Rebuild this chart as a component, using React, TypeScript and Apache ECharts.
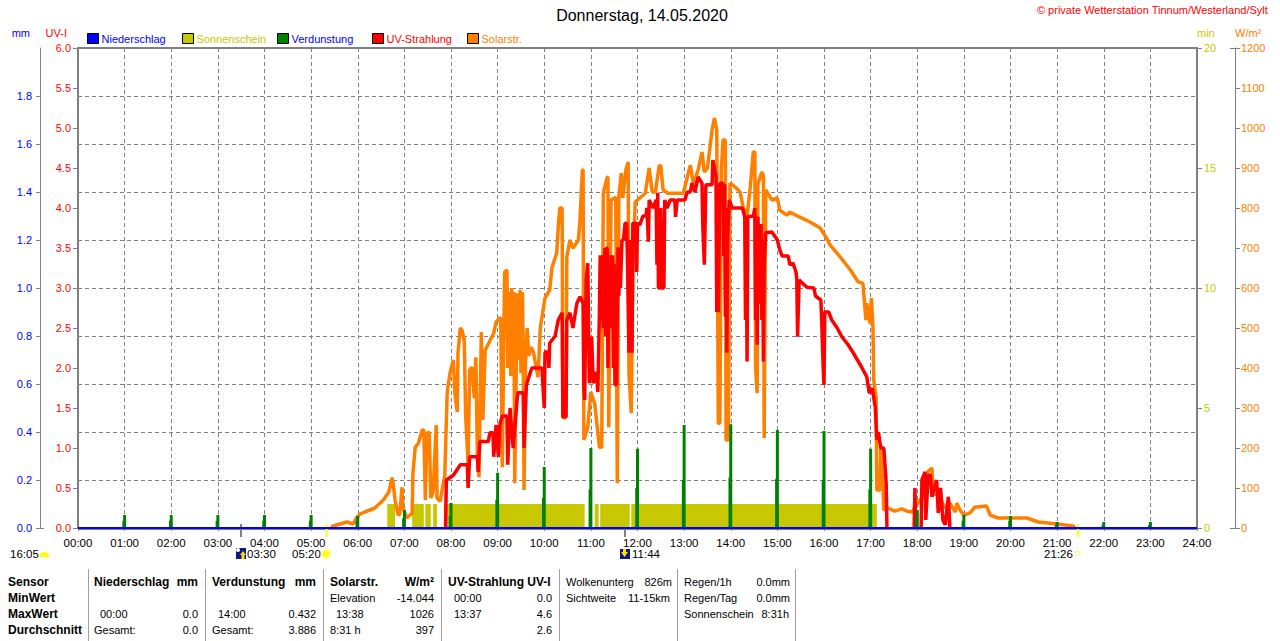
import React, { useEffect, useRef } from "react";
import * as echarts from "echarts";

const titleText = "Donnerstag, 14.05.2020";
const copyrightText = "© private Wetterstation Tinnum/Westerland/Sylt";

// [minute of day, W/m²]
const solarMorning = [
  [326,0],[328,5],[337,10],[346,15],[354,10],[359,27],[363,35],[369,40],[382,50],[393,70],[400,90],[404,125],[405,120],[408,70],[412,32],[414,35],[417,102],[418,52],[423,25],[430,37],[431,137],[434,202],[438,212],[443,245],[445,245],[447,70],[449,237],[452,240],[454,75],[457,90],[461,257],[462,75],[466,67],[472,132],[475,332],[476,352],[479,390],[483,420],[485,337],[488,290],[489,437],[492,500],[494,495],[497,470],[499,275],[502,162],[504,395],[507,402],[510,325],[512,427],[514,177],[516,127],[519,490],[521,270],[524,445],[528,460],[535,487],[538,515],[543,525],[544,525],[546,152],[549,640],[552,645],[553,400],[555,590],[557,380],[558,600],[560,480],[561,590],[562,112],[564,400],[565,587],[567,420],[569,595],[570,387],[572,590],[573,420],[574,95],[576,420],[578,500],[580,430],[583,452],[586,440],[592,377],[595,502],[601,575],[607,595],[610,652],[616,687],[618,752],[620,800],[623,800],[624,275],[628,277],[629,677],[633,720],[637,700],[644,720],[646,770],[649,895],[650,895],[651,220],[656,252],[660,340],[665,310],[671,202],[674,202],[676,837],[681,877],[682,877],[683,252],[686,820],[692,827],[694,112],[696,827],[699,887],[701,825],[705,895],[708,915],[709,387],[712,287],[714,637],[717,815],
];
const solarMidday = [
  [723,825],[730,837],[735,900],[739,840],[743,840],[748,907],[750,905],[753,845],[759,837],[779,837],[788,907],[792,860],[798,895],[803,940],[806,890],[810,900],[816,995],[819,1025],[822,995],[824,262],[826,262],[828,900],[830,970],[833,970],[834,220],[837,220],[839,862],[846,852],[852,840],[856,802],[861,780],[865,850],[869,940],[871,940],[872,400],[874,337],[875,860],[880,890],[882,880],[883,225],[885,845],[893,820],[900,825],[903,795],[912,782],
];
const solarEvening = [
  [916,790],[929,777],[942,765],[955,750],[961,732],[968,707],[981,677],[994,645],[1004,615],[1010,612],[1014,520],[1015,562],[1019,512],[1021,575],[1023,502],[1024,370],[1027,325],[1028,95],[1032,95],[1033,200],[1036,95],[1037,45],[1042,50],[1051,42],[1060,48],[1067,42],[1073,40],[1077,52],[1086,77],[1093,140],[1099,150],[1100,87],[1107,80],[1116,50],[1122,62],[1129,40],[1131,62],[1135,45],[1140,32],[1148,38],[1154,52],[1169,55],[1174,32],[1184,25],[1199,25],[1221,25],[1236,15],[1260,10],[1281,5],[1283,0],
];

// [minute of day, UV index]; null marks the periods where nothing is drawn
const uvMorning = [
  [473,0],[474,0.6],[483,0.66],[492,0.79],[501,0.79],[502,0.5],[504,0.89],[514,0.89],[515,0.7],[517,1.08],[528,1.08],[530,1.19],[534,1.19],[535,0.89],[538,1.29],[541,0.89],[543,1.3],[546,1.4],[552,1.4],[553,0.79],[556,1.5],[560,1],[565,1.6],[566,1.69],[573,1.69],[574,1],[577,1.79],[584,2],[597,2],[600,1.5],[601,2.2],[605,2.2],[606,2],[607,2.31],[614,2.4],[618,2.6],[623,2.69],[624,1.39],[628,1.39],[629,2.6],[633,2.69],[637,2.5],[640,2.69],[642,2.81],[646,2.89],[650,2.81],[651,1.76],[652,1.6],[654,3.1],[656,3.31],[658,1.81],[661,2.39],[663,1.81],[667,1.95],[669,1.7],[671,2.7],[672,3.41],[673,2.6],[675,3.41],[676,2.5],[678,3.5],[679,2.4],[680,3.5],[681,3.5],[682,2],[683,3],[684,2.6],[686,3.41],[687,2.5],[688,3.41],[689,2],[690,3.3],[691,1.79],[693,1.79],[695,3.51],[696,2.9],[697,3.51],[698,3],[700,3.6],[702,3.6],[704,3.81],[706,3.81],[707,3.4],[709,2.19],[711,3.6],[713,2.19],[714,3.81],[718,3.81],[719,3.2],[720,3.81],
];
const uvMidday = [
  [723,3.79],[727,3.9],[731,3.9],[732,4],[734,3.58],[735,4.1],[740,4],[744,4.1],[745,3.29],[746,4.19],[747,3],[749,3],[750,4],[751,3],[754,3],[755,4.1],[758,4],[762,4.1],[768,4.1],[769,3.89],[771,4.1],[781,4.1],[784,4.2],[788,4.2],[790,4.31],[794,4.2],[798,4.39],[803,4.31],[804,3.79],[806,3.29],[808,4.29],[816,4.29],[817,4.6],[821,4.39],[822,2.7],[823,4.3],[824,2.7],[826,4.31],[830,4.31],[831,3.4],[832,4.3],[833,2.64],[834,4],[835,2.19],[836,3.6],[838,4.1],[842,4],[855,4],[858,3.89],[859,2.6],[860,3.6],[861,2.08],[862,3.89],[869,3.9],[871,4],[872,2.6],[873,3.5],[874,2.29],[875,3.89],[876,3.2],[877,3.8],[878,2.8],[879,3.8],[880,2.6],[881,3.6],[882,2.08],[883,3.3],[885,3.69],[893,3.7],[900,3.6],[903,3.48],[906,3.4],[914,3.4],
];
const uvEvening = [
  [916,3.29],[920,3.31],[924,3.2],[925,3.1],[926,2.39],[928,3.1],[938,3.01],[947,3],[949,2.9],[956,2.85],[957,2.6],[959,2],[960,1.79],[961,2.7],[966,2.7],[970,2.6],[977,2.5],[983,2.39],[991,2.29],[997,2.2],[1003,2.1],[1009,2],[1015,1.89],[1018,1.7],[1019,1.69],[1022,1.75],[1026,1.51],[1028,1.1],[1030,1.2],[1033,1],[1037,1],[1040,0.56],[1041,0],[1041,null],[1076,0],[1077,0.5],[1078,0],[1078,null],[1085,0],[1086,0.6],[1090,0.7],[1091,0.1],[1094,0.66],[1097,0.66],[1099,0.39],[1105,0.6],[1107,0.19],[1110,0.5],[1113,0.1],[1116,0.04],[1120,0.39],[1122,0],
];

// sunshine periods [start minute, end minute], minutes of sun per minute = 1
const sunPeriods = [[398,408],[430,445],[447,454],[457,462],[471,652],[665,670],[672,710],[712,1028]];
const sunLevel = 1;

// evaporation on each full hour 01:00 .. 23:00 (mm)
const evapPeak = [0.054,0.054,0.054,0.054,0.054,0.05,0.075,0.104,0.23,0.254,0.333,0.33,0.429,0.432,0.408,0.404,0.33,0.075,0.054,0.05,0.025,0.025,0.025];
const evapShoulder = [0.03,0.03,0.03,0.03,0.03,0.03,0.04,0.05,0.117,0.125,0.16,0.167,0.2,0.21,0.204,0.2,0.16,0.04,0.03,0.03,0.012,0.012,0.012];

const precipValues = [[0,0],[1440,0]];

const mmTicks = [0,0.2,0.4,0.6,0.8,1,1.2,1.4,1.6,1.8];

const sensorLabels = ["Sensor","MinWert","MaxWert","Durchschnitt"];

const BLUE = "#0000ff", RED = "#ff0000", OLIVE = "#c8c800", GREEN = "#008000", ORANGE = "#ff8000", GRAY = "#808080";
const FONT = "'Liberation Sans', Arial, sans-serif";

function pad(n: number) { return String(n).padStart(2, "0"); }

function txt(text: string, x: number, y: number, o: any = {}) {
  return {
    type: "text", x, y, silent: true,
    style: {
      text, fill: o.fill || "#000",
      font: `${o.bold ? "bold " : ""}${o.size || 11}px ${FONT}`,
      textAlign: o.align || "left", textVerticalAlign: "middle",
    },
  };
}
function seg(x1: number, y1: number, x2: number, y2: number, stroke: string, lineWidth = 1) {
  return { type: "line", silent: true, shape: { x1, y1, x2, y2 }, style: { stroke, lineWidth } };
}

function tableGraphics() {
  const rows = [582, 598, 614, 630];
  const out: any[] = [];
  sensorLabels.forEach((s, i) => out.push(txt(s, 8, rows[i], { bold: true, size: 12 })));
  [88, 205, 323, 441, 559, 677, 795].forEach((x) => out.push(seg(x + 0.5, 569, x + 0.5, 641, "#a0a0a0", 1)));
  // Niederschlag
  out.push(txt("Niederschlag", 94, rows[0], { bold: true, size: 12 }), txt("mm", 198, rows[0], { bold: true, size: 12, align: "right" }));
  out.push(txt("00:00", 100, rows[2]), txt("0.0", 198, rows[2], { align: "right" }));
  out.push(txt("Gesamt:", 94, rows[3]), txt("0.0", 198, rows[3], { align: "right" }));
  // Verdunstung
  out.push(txt("Verdunstung", 212, rows[0], { bold: true, size: 12 }), txt("mm", 316, rows[0], { bold: true, size: 12, align: "right" }));
  out.push(txt("14:00", 218, rows[2]), txt("0.432", 316, rows[2], { align: "right" }));
  out.push(txt("Gesamt:", 212, rows[3]), txt("3.886", 316, rows[3], { align: "right" }));
  // Solarstr.
  out.push(txt("Solarstr.", 330, rows[0], { bold: true, size: 12 }), txt("W/m²", 434, rows[0], { bold: true, size: 12, align: "right" }));
  out.push(txt("Elevation", 330, rows[1]), txt("-14.044", 434, rows[1], { align: "right" }));
  out.push(txt("13:38", 336, rows[2]), txt("1026", 434, rows[2], { align: "right" }));
  out.push(txt("8:31 h", 330, rows[3]), txt("397", 434, rows[3], { align: "right" }));
  // UV
  out.push(txt("UV-Strahlung UV-I", 448, rows[0], { bold: true, size: 12 }));
  out.push(txt("00:00", 454, rows[1]), txt("0.0", 552, rows[1], { align: "right" }));
  out.push(txt("13:37", 454, rows[2]), txt("4.6", 552, rows[2], { align: "right" }));
  out.push(txt("2.6", 552, rows[3], { align: "right" }));
  // clouds
  out.push(txt("Wolkenunterg", 566, rows[0]), txt("826m", 672, rows[0], { align: "right" }));
  out.push(txt("Sichtweite", 566, rows[1]), txt("11-15km", 670, rows[1], { align: "right" }));
  // rain
  out.push(txt("Regen/1h", 684, rows[0]), txt("0.0mm", 790, rows[0], { align: "right" }));
  out.push(txt("Regen/Tag", 684, rows[1]), txt("0.0mm", 790, rows[1], { align: "right" }));
  out.push(txt("Sonnenschein", 684, rows[2]), txt("8:31h", 789, rows[2], { align: "right" }));
  return out;
}

function annotationGraphics() {
  const out: any[] = [];
  // gray rule directly under the blue zero line
  out.push(seg(78, 529.5, 1198, 529.5, GRAY, 1));
  // sun / moon markers under the axis
  out.push(seg(241, 524, 241, 537, GRAY, 2), seg(625, 529, 625, 537, GRAY, 2));
  out.push(seg(326.5, 524, 326.5, 537, "#ffff00", 2), seg(1078, 524, 1078, 537, "#ffff00", 2));
  // small T ends of the outer axes
  out.push(seg(36, 528.5, 44, 528.5, GRAY), seg(1230, 48.5, 1235, 48.5, GRAY), seg(1230, 528.5, 1235, 528.5, GRAY));
  // time labels
  out.push(txt("16:05", 10, 554, { size: 11.5 }));
  out.push({ type: "sector", silent: true, shape: { cx: 44.5, cy: 557, r: 5, r0: 0, startAngle: Math.PI, endAngle: 2 * Math.PI }, style: { fill: "#ffff00" } });
  out.push({ type: "rect", silent: true, shape: { x: 236, y: 548, width: 10, height: 11 }, style: { fill: "#101880" } });
  out.push({ type: "circle", silent: true, shape: { cx: 238, cy: 550, r: 2 }, style: { fill: "#ffffff" } });
  out.push({ type: "polygon", silent: true, shape: { points: [[243, 551], [246, 555], [244.5, 555], [244.5, 559], [241.5, 559], [241.5, 555], [240, 555]] }, style: { fill: "#ffe000" } });
  out.push(txt("03:30", 247, 554, { size: 11.5 }));
  out.push(txt("05:20", 292, 554, { size: 11.5 }));
  out.push({ type: "circle", silent: true, shape: { cx: 326, cy: 554, r: 4.5 }, style: { fill: "#ffff00", stroke: "#ffffb0", lineWidth: 2 } });
  out.push({ type: "rect", silent: true, shape: { x: 620, y: 549, width: 10, height: 10 }, style: { fill: "#101880" } });
  out.push({ type: "polygon", silent: true, shape: { points: [[623, 549], [626, 549], [626, 552], [628, 552], [624.5, 557], [621, 552], [623, 552]] }, style: { fill: "#ffe000" } });
  out.push(txt("11:44", 632, 554, { size: 11.5 }));
  out.push(txt("21:26", 1044, 554, { size: 11.5 }));
  out.push({ type: "rect", silent: true, shape: { x: 1075.5, y: 551.5, width: 4, height: 4 }, style: { fill: "none", stroke: "#ffff80", lineWidth: 1 } });
  return out;
}

const legendNames = ["Niederschlag", "Sonnenschein", "Verdunstung", "UV-Strahlung", "Solarstr."];
const legendColors = [BLUE, OLIVE, GREEN, RED, ORANGE];
const legendTextColors = [BLUE, OLIVE, BLUE, RED, ORANGE];
const legendLefts = [87, 182, 277, 372, 467];

function sunData() {
  const out: number[][] = [];
  sunPeriods.forEach(([a, b]) => { out.push([a, 0], [a, sunLevel], [b, sunLevel], [b, 0]); });
  return out;
}
function evapData() {
  const out: any[] = [];
  evapPeak.forEach((v, i) => {
    const m = (i + 1) * 60;
    out.push([m - 1, 0], [m - 1, evapShoulder[i]], [m - 1, null]);
    out.push([m, 0], [m, v], [m, null]);
  });
  return out;
}

function yAxisBase(color: string) {
  return {
    type: "value", min: 0,
    nameLocation: "end", nameGap: 10,
    axisLabel: { color, fontFamily: FONT, fontSize: 11 },
    axisLine: { show: false },
    axisTick: { show: true, length: 5, lineStyle: { color: GRAY } },
    splitLine: { show: false },
  };
}

export default function App() {
  const ref = useRef<HTMLDivElement>(null);
  useEffect(() => {
    const chart = echarts.init(ref.current!, undefined, { renderer: "svg" });
    const base = yAxisBase;
    chart.setOption({
      animation: false,
      backgroundColor: "#ffffff",
      title: [
        { text: titleText, left: 642, top: 7, padding: 0, textAlign: "center", textStyle: { fontFamily: FONT, fontSize: 16, fontWeight: "normal", color: "#000" } },
        { text: copyrightText, right: 12, top: 4, padding: 0, textStyle: { fontFamily: FONT, fontSize: 11, fontWeight: "normal", color: RED } },
      ],
      legend: legendNames.map((n, i) => ({
        left: legendLefts[i], top: 33, padding: 0, itemWidth: 11, itemHeight: 10, itemGap: 0, icon: "rect",
        selectedMode: false,
        textStyle: { color: legendTextColors[i], fontFamily: FONT, fontSize: 11, padding: [1, 0, 0, -2] },
        data: [{ name: n, icon: "rect", itemStyle: { color: legendColors[i], borderColor: "#000", borderWidth: 1 } }],
      })),
      grid: { left: 78, right: 83, top: 48, height: 480, show: true, borderColor: GRAY, borderWidth: 2, backgroundColor: "#fff", containLabel: false },
      xAxis: {
        type: "value", min: 0, max: 1440, interval: 60,
        axisLabel: { formatter: (v: number) => `${pad(Math.floor(v / 60))}:${pad(v % 60)}`, color: "#000", fontFamily: FONT, fontSize: 11.5, margin: 9, showMinLabel: true, showMaxLabel: true },
        axisLine: { show: true, onZero: false, lineStyle: { color: GRAY, width: 2 } },
        axisTick: { show: true, length: 3, lineStyle: { color: GRAY } },
        splitLine: { show: true, lineStyle: { color: GRAY, type: [4, 3], width: 1 } },
      },
      yAxis: [
        {
          ...base(BLUE), name: "mm", position: "left", offset: 38, max: 2, interval: 0.2,
          nameTextStyle: { color: BLUE, fontFamily: FONT, fontSize: 11, align: "right", padding: [0, 10, 0, 0] },
          axisLine: { show: true, onZero: false, lineStyle: { color: GRAY, width: 1 } },
          axisTick: { show: true, length: 4, customValues: mmTicks, lineStyle: { color: GRAY } },
          axisLabel: { color: BLUE, fontFamily: FONT, fontSize: 11, margin: 8, customValues: mmTicks, formatter: (v: number) => v.toFixed(1) },
          splitLine: { show: true, lineStyle: { color: GRAY, type: [4, 3], width: 1 } },
        },
        {
          ...base(RED), name: "UV-I", position: "left", offset: 0, max: 6, interval: 0.5,
          nameTextStyle: { color: RED, fontFamily: FONT, fontSize: 11, align: "right", padding: [0, 11, 0, 0] },
          axisLabel: { color: RED, fontFamily: FONT, fontSize: 11, margin: 7, formatter: (v: number) => v.toFixed(1) },
        },
        {
          ...base(OLIVE), name: "min", position: "right", offset: 0, max: 20, interval: 5,
          nameTextStyle: { color: OLIVE, fontFamily: FONT, fontSize: 11, align: "left" },
          axisLabel: { color: OLIVE, fontFamily: FONT, fontSize: 11, margin: 7, formatter: (v: number) => String(v) },
        },
        {
          ...base(ORANGE), name: "W/m²", position: "right", offset: 38, max: 1200, interval: 100,
          nameTextStyle: { color: ORANGE, fontFamily: FONT, fontSize: 11, align: "left" },
          axisLine: { show: true, onZero: false, lineStyle: { color: GRAY, width: 1 } },
          axisLabel: { color: ORANGE, fontFamily: FONT, fontSize: 11, margin: 6, formatter: (v: number) => String(v) },
        },
      ],
      series: [
        {
          name: "Sonnenschein", type: "line", yAxisIndex: 2, data: sunData(), showSymbol: false, symbol: "none",
          itemStyle: { color: OLIVE }, lineStyle: { width: 0 }, areaStyle: { color: OLIVE, opacity: 1 },
        },
        {
          name: "Solarstr.", type: "line", yAxisIndex: 3, data: [...solarMorning, ...solarMidday, ...solarEvening], showSymbol: false, symbol: "none",
          itemStyle: { color: ORANGE }, lineStyle: { color: ORANGE, width: 3.5 },
        },
        {
          name: "UV-Strahlung", type: "line", yAxisIndex: 1, data: [...uvMorning, ...uvMidday, ...uvEvening], showSymbol: false, symbol: "none", connectNulls: false,
          itemStyle: { color: RED }, lineStyle: { color: RED, width: 3.5 },
        },
        {
          name: "Verdunstung", type: "line", yAxisIndex: 0, data: evapData(), showSymbol: false, symbol: "none", connectNulls: false,
          itemStyle: { color: GREEN }, lineStyle: { color: GREEN, width: 3, cap: "butt" },
        },
        {
          name: "Niederschlag", type: "line", yAxisIndex: 0, data: precipValues, showSymbol: false, symbol: "none", clip: false,
          itemStyle: { color: BLUE }, lineStyle: { color: BLUE, width: 2 },
        },
      ],
      graphic: [...annotationGraphics(), ...tableGraphics()],
    });
    return () => chart.dispose();
  }, []);
  return <div ref={ref} style={{ position: "fixed", left: 0, top: 0, width: 1280, height: 641, background: "#fff" }} />;
}
